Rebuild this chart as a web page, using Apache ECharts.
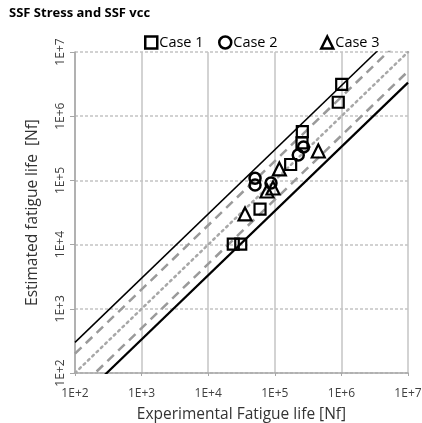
<!DOCTYPE html>
<html>
<head>
<meta charset="utf-8">
<script src="https://cdn.jsdelivr.net/npm/echarts@6/dist/echarts.min.js"></script>
<style>
  html, body { margin: 0; padding: 0; background: #fff; }
  #chart { width: 422px; height: 423px; }
</style>
</head>
<body>
<div id="chart"></div>
<script>
// 数据：实验寿命 vs 估算寿命
const caseNames = ['Case 1', 'Case 2', 'Case 3']
const case1X = [1.01e6, 8.97e5, 2.59e5, 2.56e5, 1.73e5, 6.0e4, 2.38e4, 3.08e4]
const case1Y = [3.14e6, 1.65e6, 5.74e5, 3.83e5, 1.77e5, 3.58e4, 1.02e4, 1.02e4]
const case2X = [5.05e4, 5.05e4, 8.77e4, 2.25e5, 2.70e5]
const case2Y = [1.08e5, 8.47e4, 9.12e4, 2.49e5, 3.31e5]
const case3X = [1.17e5, 4.50e5, 7.64e4, 9.4e4, 3.57e4]
const case3Y = [1.51e5, 2.87e5, 6.84e4, 7.62e4, 3.0e4]

// 参考线：y = k * x
const lineRangeX = [1e2, 1e7]
const solidFactors = [3, 1 / 3]
const dashFactors = [2, 1 / 2]
const dotFactors = [1]

const axisTicks = [1e2, 1e3, 1e4, 1e5, 1e6, 1e7]

const FONT = '"Open Sans", "Liberation Sans", sans-serif'

const pairs = (xs, ys) => xs.map((x, i) => [x, ys[i]])
const refLine = (k) => lineRangeX.map(x => [x, x * k])

const chart = echarts.init(document.getElementById('chart'))

const makeRefSeries = (factors, style, widths) => factors.map((k, i) => ({
  type: 'line',
  data: refLine(k),
  symbol: 'none',
  silent: true,
  clip: true,
  z: 1,
  lineStyle: Object.assign({}, style, { width: widths ? widths[i] : style.width })
}))

const scatterStyle = {
  color: 'rgba(0,0,0,0)',
  borderColor: '#000',
  borderWidth: 2.2,
  opacity: 1
}

const labelFmt = (v) => '1E+' + Math.round(Math.log10(v))

// 图例位置不等距，分成三个
const legendLefts = [139, 213, 315]
const legends = caseNames.map((name, i) => ({
  top: 30,
  left: legendLefts[i],
  itemWidth: 12,
  itemHeight: 12,
  data: [name],
  itemStyle: { borderWidth: 2.5, borderColor: '#000', opacity: 1 },
  textStyle: {
    fontFamily: FONT,
    fontSize: 14.5,
    color: '#000',
    padding: [0, 0, 0, -3]
  }
}))

chart.setOption({
  backgroundColor: '#fff',
  animation: false,
  title: {
    text: 'SSF Stress and SSF vcc',
    left: 4,
    top: 2,
    textStyle: {
      fontFamily: FONT,
      fontSize: 13,
      fontWeight: 'bold',
      color: '#000'
    }
  },
  legend: legends,
  grid: {
    left: 75,
    right: 14,
    top: 52,
    bottom: 50,
    outerBoundsMode: 'none'
  },
  xAxis: {
    type: 'log',
    logBase: 10,
    min: axisTicks[0],
    max: axisTicks[axisTicks.length - 1],
    name: 'Experimental Fatigue life [Nf]',
    nameLocation: 'middle',
    nameGap: 34,
    nameTextStyle: { fontFamily: FONT, fontSize: 15.5, color: '#333' },
    axisLine: { lineStyle: { color: '#a6a6a6', width: 1.5 } },
    axisTick: { show: true, inside: false, length: 3, lineStyle: { color: '#a6a6a6' } },
    axisLabel: {
      fontFamily: FONT,
      fontSize: 12,
      color: '#404040',
      margin: 15,
      formatter: labelFmt
    },
    splitLine: { show: true, lineStyle: { color: '#c4c4c4', width: 1.5 } }
  },
  yAxis: {
    type: 'log',
    logBase: 10,
    min: axisTicks[0],
    max: axisTicks[axisTicks.length - 1],
    name: 'Estimated fatigue life  [Nf]',
    nameLocation: 'middle',
    nameGap: 34,
    nameTextStyle: { fontFamily: FONT, fontSize: 15.5, color: '#333' },
    axisLine: { show: true, lineStyle: { color: '#a6a6a6', width: 1.5 } },
    axisTick: { show: true, length: 5, lineStyle: { color: '#a6a6a6' } },
    axisLabel: {
      fontFamily: FONT,
      fontSize: 12,
      color: '#404040',
      rotate: 90,
      margin: 8,
      formatter: labelFmt
    },
    splitLine: { show: true, lineStyle: { color: '#c4c4c4', width: 1.5, type: [3, 2] } }
  },
  series: [
    ...makeRefSeries(solidFactors, { color: '#000', type: 'solid', width: 1.5 }, [1.5, 2.2]),
    ...makeRefSeries(dashFactors, { color: '#9a9a9a', type: [9, 6], width: 2.5 }),
    ...makeRefSeries(dotFactors, { color: '#a8a8a8', type: [2, 4], width: 2.5, cap: 'round' }),
    {
      name: caseNames[0],
      type: 'scatter',
      symbol: 'rect',
      symbolSize: 11,
      z: 3,
      data: pairs(case1X, case1Y),
      itemStyle: scatterStyle
    },
    {
      name: caseNames[1],
      type: 'scatter',
      symbol: 'circle',
      symbolSize: 11,
      z: 3,
      data: pairs(case2X, case2Y),
      itemStyle: Object.assign({}, scatterStyle, { borderWidth: 2.5 })
    },
    {
      name: caseNames[2],
      type: 'scatter',
      symbol: 'triangle',
      symbolSize: 13,
      z: 3,
      data: pairs(case3X, case3Y),
      itemStyle: scatterStyle
    }
  ]
})
</script>
</body>
</html>
